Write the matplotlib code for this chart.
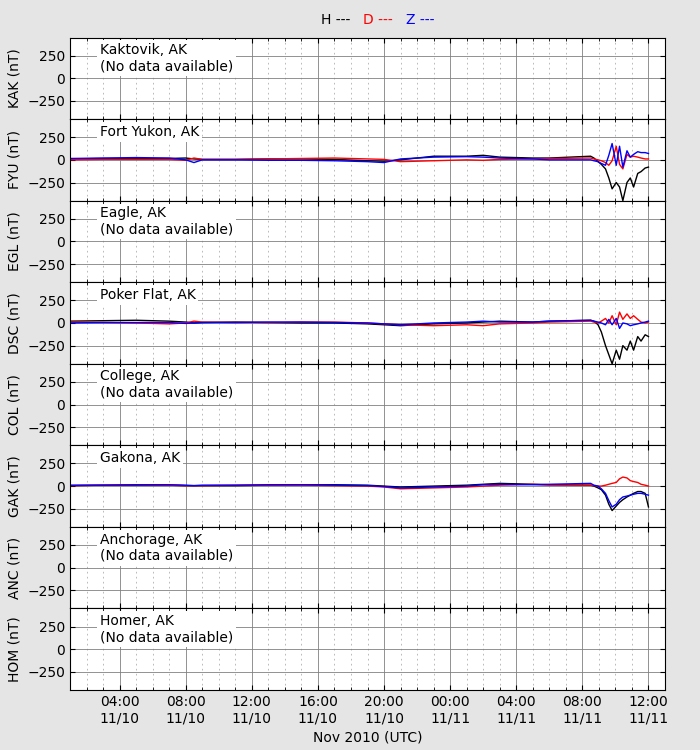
import matplotlib
matplotlib.use("Agg")
import matplotlib.pyplot as plt
import matplotlib.dates as mdates
from datetime import datetime, timedelta

T0 = datetime(2010, 11, 10, 0, 0)

# sample times, hours since 2010-11-10 00:00
hours = [1, 3, 5, 7, 8, 8.5, 9, 11, 13, 15, 17, 19, 20, 21, 23, 25, 26, 27, 29, 30,
         32.5, 32.7, 32.95, 33.15, 33.4, 33.6, 33.8, 34.05, 34.25, 34.45, 34.7, 34.9,
         35.1, 35.35, 35.55, 35.8, 36]

stations = ["KAK", "FYU", "EGL", "DSC", "COL", "GAK", "ANC", "HOM"]
names = ["Kaktovik, AK", "Fort Yukon, AK", "Eagle, AK", "Poker Flat, AK",
         "College, AK", "Gakona, AK", "Anchorage, AK", "Homer, AK"]

fyu_h = [10, 15, 15, 15, 20, 10, 5, 5, 10, 10, 5, -10, -15, 0, 40, 40, 50, 30, 20, 20,
         40, 20, -20, -50, -100, -200, -320, -250, -300, -450, -250, -200, -300, -150, -130, -90, -80]
fyu_d = [0, 5, 5, 5, -5, 20, 5, 5, 10, 15, 20, 10, 5, -20, -10, 0, -5, 5, 10, 15,
         20, 10, 0, -10, -30, -60, -10, 150, -50, -100, 60, 30, 40, 30, 20, 10, 10]
fyu_z = [15, 20, 25, 20, 0, -30, 0, 0, -5, -5, -10, -20, -30, 10, 30, 35, 30, 20, 10, 0,
         0, -10, -20, -40, -60, 50, 180, -60, 150, -80, 100, 30, 60, 90, 80, 80, 70]

dsc_h = [20, 25, 30, 20, 10, 0, 5, 10, 5, 0, 0, -10, -20, -30, -10, 0, 10, 20, 10, 20,
         30, 20, -20, -100, -250, -350, -450, -300, -400, -250, -300, -200, -300, -150, -200, -130, -150]
dsc_d = [10, 5, 0, -10, 0, 20, 10, 5, 5, 10, 10, 0, -10, -20, -30, -20, -30, -10, 0, 10,
         20, 10, 0, 20, 50, 0, 80, -20, 120, 40, 100, 50, 80, 40, 10, 0, 10]
dsc_z = [0, 5, 5, 5, -5, 0, 5, 5, 10, 10, 5, 0, -10, -20, 0, 10, 20, 10, 10, 20,
         30, 20, 10, 0, -20, 40, -20, 50, -60, 0, -10, -30, -20, -10, 0, 10, 20]

gak_h = [5, 10, 10, 10, 5, 5, 5, 5, 10, 15, 15, 10, 0, -10, 0, 10, 20, 30, 20, 15,
         10, 0, -20, -40, -100, -200, -270, -220, -180, -150, -120, -100, -80, -60, -60, -80, -230]
gak_d = [5, 10, 15, 10, 5, 5, 5, 10, 10, 10, 5, 0, -10, -30, -20, -10, 0, 10, 20, 10,
         10, 5, 0, 0, 10, 20, 30, 40, 80, 100, 90, 60, 50, 40, 20, 10, 0]
gak_z = [10, 10, 15, 15, 10, 5, 10, 10, 15, 15, 10, 5, -5, -20, -10, 0, 15, 20, 15, 20,
         30, 10, 0, -30, -80, -160, -230, -200, -150, -120, -110, -100, -90, -80, -80, -90, -100]

data = {"FYU": (fyu_h, fyu_d, fyu_z), "DSC": (dsc_h, dsc_d, dsc_z),
        "GAK": (gak_h, gak_d, gak_z)}

times = [T0 + timedelta(hours=h) for h in hours]

fig, axes = plt.subplots(8, 1, sharex=True, figsize=(7, 7.5), dpi=100)
fig.patch.set_facecolor("#e5e5e5")
fig.subplots_adjust(left=0.1, right=0.95, top=0.95, bottom=0.08, hspace=0)

for ax, code, name in zip(axes, stations, names):
    ax.set_ylim(-450, 450)
    ax.set_yticks([-250, 0, 250])
    ax.set_xlim(T0 + timedelta(hours=1), T0 + timedelta(hours=37))
    ax.xaxis.set_major_locator(mdates.HourLocator(byhour=range(0, 24, 4)))
    ax.xaxis.set_minor_locator(mdates.HourLocator())
    ax.xaxis.set_major_formatter(mdates.DateFormatter("%H:%M\n%m/%d"))
    ax.grid(True, which="major", color="#808080", lw=0.6, ls="-")
    ax.grid(True, which="minor", axis="x", color="#b0b0b0", lw=0.6, ls=(0, (2, 4)))
    ax.tick_params(which="both", direction="in", top=True, right=True)
    ax.set_ylabel(f"{code} (nT)")
    label = name if code in data else name + "\n(No data available)"
    ax.text(0.05, 0.93, label, transform=ax.transAxes, va="top", ha="left",
            bbox=dict(facecolor="white", edgecolor="none", pad=2))
    if code in data:
        h, d, z = data[code]
        ax.plot(times, h, color="black", lw=1)
        ax.plot(times, d, color="red", lw=1)
        ax.plot(times, z, color="blue", lw=1)

axes[-1].set_xlabel("Nov 2010 (UTC)")
fig.text(0.48, 0.968, "H ---", color="black", ha="center")
fig.text(0.54, 0.968, "D ---", color="red", ha="center")
fig.text(0.6, 0.968, "Z ---", color="blue", ha="center")

fig.savefig("out.png", facecolor=fig.get_facecolor())
